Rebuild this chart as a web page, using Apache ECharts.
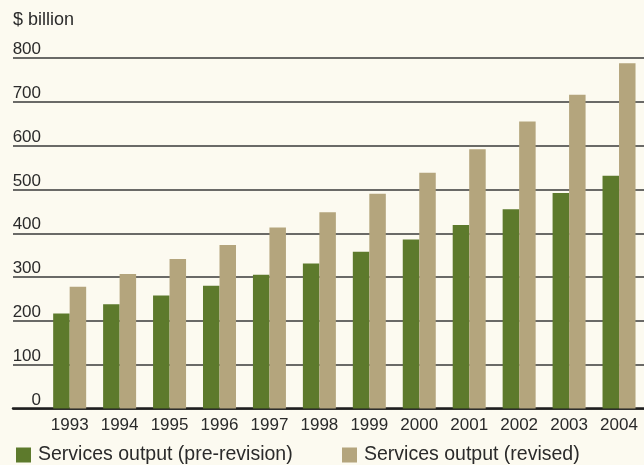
<!DOCTYPE html>
<html>
<head>
<meta charset="utf-8">
<script src="https://cdn.jsdelivr.net/npm/echarts@6/dist/echarts.min.js"></script>
<style>
html,body{margin:0;padding:0;background:#fcfaf0;}
#c{width:644px;height:465px;}
</style>
</head>
<body>
<div id="c"></div>
<script>
const years = ['1993','1994','1995','1996','1997','1998','1999','2000','2001','2002','2003','2004'];
const preRevision = [217, 238, 258, 280, 305, 331, 358, 386, 419, 455, 492, 531];
const revised = [278, 307, 341, 373, 413, 448, 490, 538, 592, 655, 716, 788];
const seriesNames = ['Services output (pre-revision)', 'Services output (revised)'];
const unitLabel = '$ billion';

const FONT = '"Liberation Sans", Arial, sans-serif';
const TXT = '#2a2a2a';
const GREEN = '#5d7a2c';
const TAN = '#b4a57d';

const chart = echarts.init(document.getElementById('c'), null, {renderer:'canvas'});
chart.setOption({
  backgroundColor: '#fcfaf0',
  animation: false,
  textStyle: {fontFamily: FONT},
  title: {
    text: unitLabel, left: 8, top: 6,
    textStyle: {fontFamily: FONT, fontSize: 18, fontWeight: 'normal', color: TXT}
  },
  legend: [
    {data: [seriesNames[0]], left: 11, top: 440, icon: 'rect', itemWidth: 15, itemHeight: 15, itemGap: 0,
     textStyle: {fontFamily: FONT, fontSize: 19.5, color: TXT, padding: [0,0,0,2]}},
    {data: [seriesNames[1]], left: 337, top: 440, icon: 'rect', itemWidth: 15, itemHeight: 15, itemGap: 0,
     textStyle: {fontFamily: FONT, fontSize: 19.5, color: TXT, padding: [0,0,0,2]}}
  ],
  grid: [
    {left: 13, right: 0, top: 58, bottom: 56.5, containLabel: false},
    {left: 44.7, width: 606.5, top: 58, bottom: 56.5, containLabel: false}
  ],
  xAxis: [
    {gridIndex: 0, type: 'value', min: 0, max: 1,
     axisLine: {show: true, lineStyle: {color: '#1e1e1e', width: 2.5}},
     axisTick: {show: false}, axisLabel: {show: false}, splitLine: {show: false}},
    {gridIndex: 1, type: 'category', data: years,
     axisLine: {show: false}, axisTick: {show: false},
     axisLabel: {fontFamily: FONT, fontSize: 17, color: TXT, margin: 8, interval: 0}}
  ],
  yAxis: [
    {gridIndex: 0, type: 'value', min: 0, max: 800, interval: 100,
     axisLine: {show: false}, axisTick: {show: false},
     splitLine: {show: true, lineStyle: {color: '#3a3a3a', width: 1.5}},
     axisLabel: {inside: true, align: 'right', margin: 28, verticalAlign: 'bottom',
       padding: [0,0,0,0], fontFamily: FONT, fontSize: 17, color: TXT}},
    {gridIndex: 1, type: 'value', min: 0, max: 800, interval: 100, show: false,
     splitLine: {show: false}}
  ],
  series: [
    {name: seriesNames[0], type: 'bar', xAxisIndex: 1, yAxisIndex: 1, data: preRevision,
     barWidth: 16.5, barGap: '0%', itemStyle: {color: GREEN}, z: 3},
    {name: seriesNames[1], type: 'bar', xAxisIndex: 1, yAxisIndex: 1, data: revised,
     barWidth: 16.5, barGap: '0%', itemStyle: {color: TAN}, z: 3}
  ]
});
</script>
</body>
</html>
